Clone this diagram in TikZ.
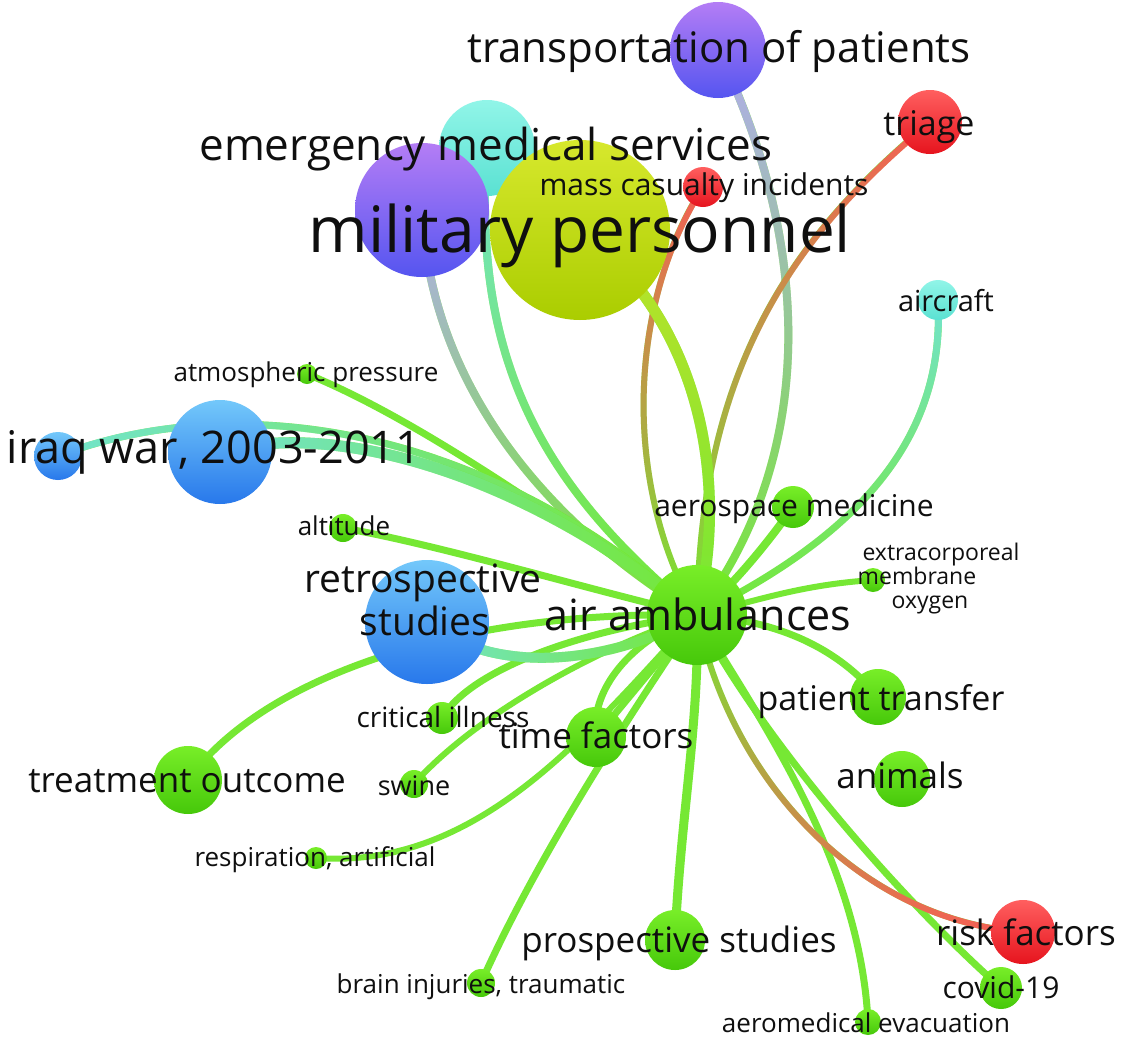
\documentclass[tikz,border=0pt]{standalone}
\usepackage{fontspec}
\setmainfont{Open Sans}
\usetikzlibrary{fadings}
\pgfdeclarelayer{bg}
\pgfdeclarelayer{edges}
\pgfdeclarelayer{labels}
\pgfsetlayers{bg,edges,main,labels}
\definecolor{gTop}{RGB}{120,238,40}
\definecolor{gBot}{RGB}{70,200,10}
\definecolor{yTop}{RGB}{215,232,45}
\definecolor{yBot}{RGB}{170,205,0}
\definecolor{pTop}{RGB}{180,125,245}
\definecolor{pBot}{RGB}{85,85,240}
\definecolor{cTop}{RGB}{145,245,232}
\definecolor{cBot}{RGB}{90,225,210}
\definecolor{bTop}{RGB}{115,200,250}
\definecolor{bBot}{RGB}{40,120,235}
\definecolor{rTop}{RGB}{255,95,95}
\definecolor{rBot}{RGB}{230,20,30}
\definecolor{eG}{RGB}{118,232,52}
\definecolor{eC}{RGB}{115,228,205}
\definecolor{eP}{RGB}{178,172,238}
\definecolor{eR}{RGB}{245,95,85}
\definecolor{eY}{RGB}{190,226,40}
\definecolor{txt}{RGB}{15,15,15}
\tikzfading[name=fadesouth, top color=transparent!0, bottom color=transparent!100]
\tikzfading[name=fadenorth, top color=transparent!100, bottom color=transparent!0]
\tikzfading[name=fadeeast, left color=transparent!0, right color=transparent!100]
\newcommand\fsz[1]{\fontsize{#1}{#1}\selectfont}
\newcommand\gradedge[5]{\draw[lnk=#1,#4] #5; \draw[lnk=#1,#2,path fading=#3] #5;}
\tikzset{
  vnode/.style={circle, inner sep=0pt, minimum size=#1},
  gnode/.style={vnode=#1, top color=gTop, bottom color=gBot},
  ynode/.style={vnode=#1, top color=yTop, bottom color=yBot},
  pnode/.style={vnode=#1, top color=pTop, bottom color=pBot},
  cnode/.style={vnode=#1, top color=cTop, bottom color=cBot},
  bnode/.style={vnode=#1, top color=bTop, bottom color=bBot},
  rnode/.style={vnode=#1, top color=rTop, bottom color=rBot},
  lnk/.style={line width=#1, line cap=round},
  lab/.style={anchor=base, text=txt, inner sep=0pt, font=\fsz{#1}},
}
\begin{document}
\begin{tikzpicture}[x=1pt, y=-1pt]
\useasboundingbox (0,0) rectangle (1122,1047);
\begin{pgfonlayer}{bg}
\fill[white] (0,0) rectangle (1122,1047);
\end{pgfonlayer}

% ---------- nodes ----------
\node[cnode=96pt] (nEMS) at (487,148) {};
\node[pnode=96pt] (nTP) at (718,50) {};
\node[pnode=134pt] (nPur) at (422,210) {};
\node[ynode=180pt] (nMP) at (580,230) {};
\node[rnode=40pt] (nMCI) at (703,187) {};
\node[rnode=64pt] (nTri) at (930,122) {};
\node[cnode=40pt] (nAir) at (938,300) {};
\node[gnode=20pt] (nAtm) at (307,374) {};
\node[bnode=104pt] (nIrq) at (220,452) {};
\node[bnode=48pt] (nIrqS) at (58,456) {};
\node[gnode=28pt] (nAlt) at (343,528) {};
\node[gnode=42pt] (nAero) at (793,507) {};
\node[gnode=24pt] (nECMO) at (873,580) {};
\node[gnode=100pt] (nAA) at (697,615) {};
\node[bnode=124pt] (nRetro) at (427,622) {};
\node[gnode=56pt] (nPT) at (878,697) {};
\node[gnode=32pt] (nCI) at (442,718) {};
\node[gnode=60pt] (nTF) at (596,737) {};
\node[gnode=68pt] (nTO) at (188,780) {};
\node[gnode=28pt] (nSw) at (414,784) {};
\node[gnode=56pt] (nAni) at (902,779) {};
\node[gnode=22pt] (nResp) at (316,858) {};
\node[gnode=60pt] (nPro) at (675,940) {};
\node[gnode=28pt] (nBrain) at (481,983) {};
\node[rnode=64pt] (nRisk) at (1023,932) {};
\node[gnode=42pt] (nCov) at (1001,988) {};
\node[gnode=26pt] (nEvac) at (868,1022) {};

% ---------- edges ----------
\begin{pgfonlayer}{edges}
\draw[lnk=7, eG] (nAtm.center) .. controls (420,420) and (560,520) .. (nAA.center);
\draw[lnk=7, eG] (nAlt.center) .. controls (440,545) and (590,590) .. (nAA.center);
\draw[lnk=7, eG] (nTO.center) .. controls (260,680) and (450,610) .. (nAA.center);
\draw[lnk=7, eG] (nCI.center) .. controls (470,670) and (580,630) .. (nAA.center);
\draw[lnk=6, eG] (nSw.center) .. controls (470,720) and (590,650) .. (nAA.center);
\draw[lnk=7, eG] (nTF.center) .. controls (590,690) and (630,640) .. (nAA.center);
\draw[lnk=7, eG] (nTF.center) -- (nAA.center);
\draw[lnk=6, eG] (nResp.center) .. controls (480,870) and (590,730) .. (nAA.center);
\draw[lnk=7, eG] (nBrain.center) .. controls (540,850) and (640,700) .. (nAA.center);
\draw[lnk=9, eG] (nPro.center) .. controls (680,820) and (700,720) .. (nAA.center);
\draw[lnk=7, eG] (nEvac.center) .. controls (860,860) and (760,720) .. (nAA.center);
\draw[lnk=7, eG] (nCov.center) .. controls (880,880) and (750,720) .. (nAA.center);
\draw[lnk=8, eG] (nAero.center) .. controls (770,540) and (730,590) .. (nAA.center);
\draw[lnk=6, eG] (nECMO.center) .. controls (800,585) and (760,600) .. (nAA.center);
\draw[lnk=7, eG] (nPT.center) .. controls (840,650) and (780,620) .. (nAA.center);
\gradedge{7}{eC}{fadesouth}{eG}{(nAir.center) .. controls (945,430) and (870,530) .. (nAA.center)}
\gradedge{8}{eP}{fadesouth}{eG}{(nTP.center) .. controls (815,250) and (815,460) .. (nAA.center)}
\gradedge{6}{eR}{fadesouth}{eG}{(nTri.center) .. controls (800,230) and (700,360) .. (nAA.center)}
\gradedge{6}{eR}{fadesouth}{eG}{(nMCI.center) .. controls (630,300) and (620,480) .. (nAA.center)}
\gradedge{8}{eC}{fadesouth}{eG}{(nEMS.center) .. controls (470,380) and (560,500) .. (nAA.center)}
\gradedge{8}{eP}{fadesouth}{eG}{(nPur.center) .. controls (430,380) and (540,520) .. (nAA.center)}
\gradedge{11}{eY}{fadesouth}{eG}{(nMP.center) .. controls (700,320) and (730,480) .. (nAA.center)}
\gradedge{7}{eC}{fadeeast}{eG}{(nIrqS.center) .. controls (230,390) and (480,420) .. (nAA.center)}
\gradedge{11}{eC}{fadeeast}{eG}{(nIrq.center) .. controls (330,420) and (520,470) .. (nAA.center)}
\gradedge{10}{eC}{fadeeast}{eG}{(nRetro.center) .. controls (500,680) and (620,660) .. (nAA.center)}
\gradedge{6}{eR}{fadenorth}{eG}{(nRisk.center) .. controls (860,920) and (730,780) .. (nAA.center)}
\end{pgfonlayer}

% ---------- labels ----------
\begin{pgfonlayer}{labels}
\node[lab=42] (lTP) at (719,62) {transportation of patients};
\node[lab=34] (lTri) at (929,135) {triage};
\node[lab=44] (lEMS) at (486,160) {emergency medical services};
\node[lab=30] (lMCI) at (704,195) {mass casualty incidents};
\node[lab=64] (lMP) at (580,252) {military personnel};
\node[lab=29] (lAir) at (946,311) {aircraft};
\node[lab=26] (lAtm) at (306,381) {atmospheric pressure};
\node[lab=45] (lIrq) at (214,463) {iraq war, 2003-2011};
\node[lab=30] (lAero) at (794,516) {aerospace medicine};
\node[lab=26] (lAlt) at (344,535) {altitude};
\node[lab=23] (lECMOa) at (941,560) {extracorporeal};
\node[lab=23] (lECMOb) at (917,584) {membrane};
\node[lab=23] (lECMOc) at (930,608) {oxygen};
\node[lab=39] (lRetroA) at (423,592) {retrospective};
\node[lab=39] (lRetroB) at (425,635) {studies};
\node[lab=43] (lAA) at (698,630) {air ambulances};
\node[lab=34] (lPT) at (881,710) {patient transfer};
\node[lab=28] (lCI) at (443,727) {critical illness};
\node[lab=35] (lTF) at (596,748) {time factors};
\node[lab=35] (lTO) at (187,792) {treatment outcome};
\node[lab=27] (lSw) at (414,795) {swine};
\node[lab=35] (lAni) at (900,788) {animals};
\node[lab=26] (lResp) at (315,866) {respiration, artificial};
\node[lab=35] (lPro) at (679,952) {prospective studies};
\node[lab=35] (lRisk) at (1026,945) {risk factors};
\node[lab=26] (lBrain) at (481,993) {brain injuries, traumatic};
\node[lab=30] (lCov) at (1001,998) {covid-19};
\node[lab=26] (lEvac) at (866,1032) {aeromedical evacuation};
\end{pgfonlayer}
\end{tikzpicture}
\end{document}
